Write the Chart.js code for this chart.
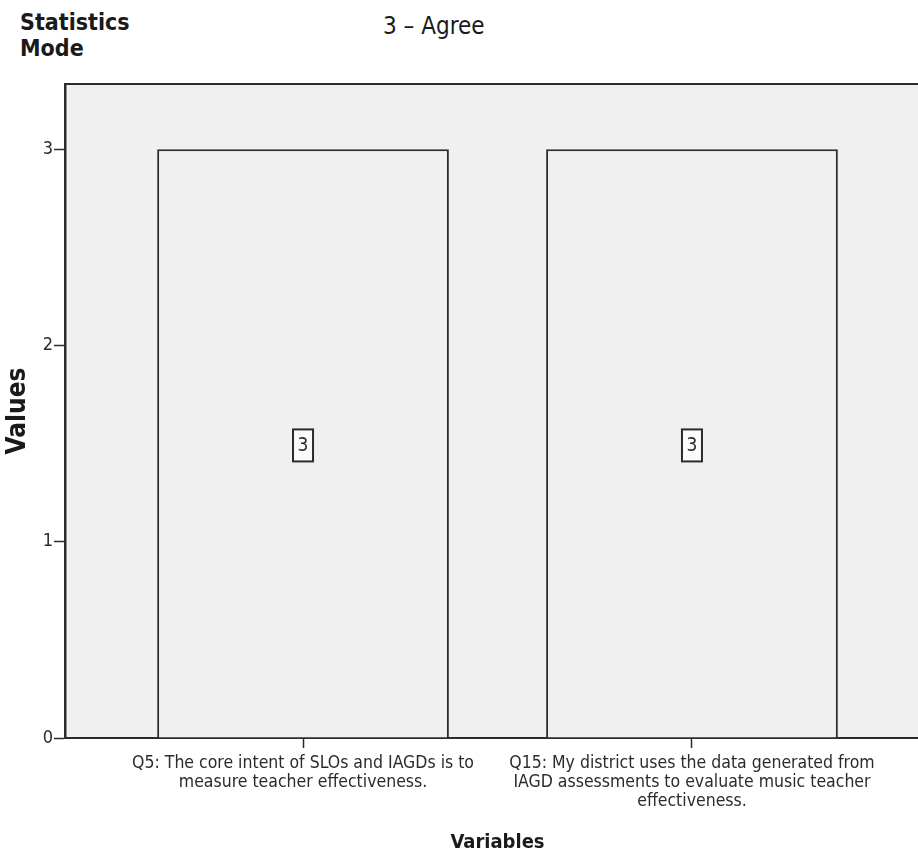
<!DOCTYPE html>
<html>
<head>
<meta charset="utf-8">
<script src="https://cdn.jsdelivr.net/npm/chart.js@4.4.1/dist/chart.umd.min.js"></script>
<style>
    html, body { margin: 0; padding: 0; background: #fff; overflow: hidden; }
    #wrap { position: relative; width: 918px; height: 858px; overflow: hidden; }
    #myChart { position: absolute; left: 0; top: 0; }
    .stat-title { position: absolute; left: 20px; top: 9px; font: bold 23px/26px "DejaVu Sans Condensed", "DejaVu Sans", sans-serif; color: #1a1a1a; }
    .stat-value { position: absolute; left: 383px; top: 12px; font: 24px/28px "DejaVu Sans Condensed", "DejaVu Sans", sans-serif; color: #1a1a1a; }
</style>
</head>
<body>
<div id="wrap">
    <div class="stat-title">Statistics<br>Mode</div>
    <div class="stat-value">3 – Agree</div>
    <canvas id="myChart" width="930" height="858"></canvas>
</div>
<script>
// chart values
const categories = [
    ["Q5: The core intent of SLOs and IAGDs is to", "measure teacher effectiveness."],
    ["Q15: My district uses the data generated from", "IAGD assessments to evaluate music teacher", "effectiveness."]
];
const positions = [1, 2];
const modeValues = [3, 3];
const valueLabels = ["3", "3"];
const yTicks = [0, 1, 2, 3];

const FONT = '"DejaVu Sans Condensed", "DejaVu Sans", sans-serif';
const INK = "#2b2b2b";

// grey plot background
const plotBackground = {
    id: "plotBackground",
    beforeDraw(chart) {
        const { ctx, chartArea: a } = chart;
        ctx.save();
        ctx.fillStyle = "#f0f0f0";
        ctx.fillRect(a.left, a.top, a.right - a.left, a.bottom - a.top);
        ctx.restore();
    }
};

// boxed value label in the middle of each bar
const boxedLabels = {
    id: "boxedLabels",
    afterDatasetsDraw(chart) {
        const { ctx } = chart;
        const meta = chart.getDatasetMeta(0);
        ctx.save();
        ctx.font = "19px " + FONT;
        ctx.textAlign = "center";
        ctx.textBaseline = "middle";
        meta.data.forEach((bar, i) => {
            const cx = bar.x;
            const cy = (bar.y + bar.base) / 2 + 2;
            const w = 20, h = 32;
            ctx.fillStyle = "#fbfbfb";
            ctx.fillRect(cx - w / 2, cy - h / 2, w, h);
            ctx.strokeStyle = INK;
            ctx.lineWidth = 2;
            ctx.strokeRect(cx - w / 2, cy - h / 2, w, h);
            ctx.fillStyle = INK;
            ctx.fillText(valueLabels[i], cx, cy + 1);
        });
        ctx.restore();
    }
};

const ctx = document.getElementById("myChart");
new Chart(ctx, {
    type: "bar",
    data: {
        datasets: [
            {
                data: positions.map((x, i) => ({ x: x, y: modeValues[i] })),
                backgroundColor: "#f0f0f0",
                borderColor: INK,
                borderWidth: 2,
                barPercentage: 0.75,
                categoryPercentage: 1,
            },
        ],
    },
    options: {
        responsive: false,
        animation: false,
        layout: { padding: { top: 84, right: 0, bottom: 0, left: 0 } },
        plugins: {
            legend: { display: false },
            tooltip: { enabled: false },
        },
        scales: {
            x: {
                type: "linear",
                position: "bottom",
                offset: false,
                min: 0.388,
                max: 2.612,
                afterBuildTicks(scale) {
                    scale.ticks = positions.map((v) => ({ value: v }));
                },
                afterFit(scale) {
                    scale.height = 120;
                },
                ticks: {
                    autoSkip: false,
                    maxRotation: 0,
                    padding: 6,
                    color: INK,
                    font: { family: FONT, size: 17.5, lineHeight: 1.09 },
                    callback: (v) => categories[positions.indexOf(v)],
                },
                grid: {
                    offset: false,
                    drawOnChartArea: false,
                    drawTicks: true,
                    tickLength: 10,
                    tickWidth: 1.5,
                    tickColor: INK,
                },
                border: { display: true, color: INK, width: 2 },
                title: {
                    display: true,
                    text: "Variables",
                    color: "#1a1a1a",
                    font: { family: FONT, size: 20, weight: "bold" },
                    padding: { top: 0, bottom: 3 },
                },
            },
            xTop: {
                type: "linear",
                position: "top",
                afterFit(scale) {
                    scale.height = 0;
                },
                ticks: { display: false },
                grid: { drawOnChartArea: false, drawTicks: false },
                border: { display: true, color: INK, width: 2 },
            },
            y: {
                min: 0,
                max: 3.333,
                afterBuildTicks(scale) {
                    scale.ticks = yTicks.map((v) => ({ value: v }));
                },
                afterFit(scale) {
                    scale.width = 65;
                },
                ticks: {
                    padding: 1,
                    color: INK,
                    font: { family: FONT, size: 18 },
                },
                grid: {
                    drawOnChartArea: false,
                    drawTicks: true,
                    tickLength: 11,
                    tickWidth: 1.5,
                    tickColor: INK,
                },
                border: { display: true, color: INK, width: 2.5 },
                title: {
                    display: true,
                    text: "Values",
                    color: "#1a1a1a",
                    font: { family: FONT, size: 26, weight: "bold" },
                    padding: { top: 3, bottom: 0 },
                },
            },
        },
    },
    plugins: [plotBackground, boxedLabels],
});
</script>
</body>
</html>
